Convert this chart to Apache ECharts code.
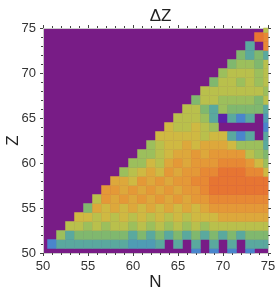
<!DOCTYPE html>
<html>
<head>
<meta charset="utf-8">
<script src="https://cdn.jsdelivr.net/npm/echarts@6/dist/echarts.min.js"></script>
<style>html,body{margin:0;padding:0;background:#fff}#c{width:275px;height:296px}</style>
</head>
<body>
<div id="c"></div>
<script>
// Neutron number N (columns) and proton number Z (rows)
const nValues = [50,51,52,53,54,55,56,57,58,59,60,61,62,63,64,65,66,67,68,69,70,71,72,73,74,75];
const zValues = [50,51,52,53,54,55,56,57,58,59,60,61,62,63,64,65,66,67,68,69,70,71,72,73,74,75];
const xTicks = [50,55,60,65,70,75];
const yTicks = [50,55,60,65,70,75];
const _ = null;
// ΔZ level per row (index = N - 50), null = no value
const z50 = [_,_,_,_,_,_,_,_,_,_,_,_,_,_,_,_,_,2,_,2,_,2,_,2,_,_];
const z51 = [_,2,4,4,4,4,4,4,4,4,3,3,3,4,_,4,_,4,_,4,_,4,_,4,4,4];
const z52 = [_,_,6,4,5,5,5,5,5,5,4,5,4,5,4,5,4,5,4,5,4,5,4,5,5,5];
const z53 = [_,_,_,7,7,6,7,6,7,7,6,7,6,7,6,7,6,7,6,7,7,7,7,7,7,7];
const z54 = [_,_,_,_,8,8,7,8,7,8,7,8,7,8,7,8,7,8,8,8,9,9,9,9,9,9];
const z55 = [_,_,_,_,_,5,9,8,9,8,9,8,9,8,9,8,9,8,9,10,10,10,10,10,10,10];
const z56 = [_,_,_,_,_,_,7,10,9,10,9,10,9,10,9,10,9,10,10,11,11,11,11,11,11,11];
const z57 = [_,_,_,_,_,_,_,10,10,9,10,9,10,9,10,9,10,10,11,12,12,12,12,12,12,12];
const z58 = [_,_,_,_,_,_,_,_,9,9,8,10,9,10,9,10,10,11,11,12,12,12,12,12,12,12];
const z59 = [_,_,_,_,_,_,_,_,_,6,7,8,9,8,10,9,10,10,11,11,12,12,12,11,11,8];
const z60 = [_,_,_,_,_,_,_,_,_,_,6,6,8,7,9,10,9,10,10,10,11,11,11,10,8,6];
const z61 = [_,_,_,_,_,_,_,_,_,_,_,6,6,7,8,9,9,10,9,10,10,10,10,7,6,5];
const z62 = [_,_,_,_,_,_,_,_,_,_,_,_,6,7,8,8,9,8,9,9,9,8,6,6,6,4];
const z63 = [_,_,_,_,_,_,_,_,_,_,_,_,_,8,8,8,8,8,7,8,8,4,2,4,_,4];
const z64 = [_,_,_,_,_,_,_,_,_,_,_,_,_,_,8,7,7,8,7,6,_,_,_,_,_,2];
const z65 = [_,_,_,_,_,_,_,_,_,_,_,_,_,_,_,7,7,7,6,4,1,4,2,4,_,3];
const z66 = [_,_,_,_,_,_,_,_,_,_,_,_,_,_,_,_,7,7,5,4,6,5,5,5,5,4];
const z67 = [_,_,_,_,_,_,_,_,_,_,_,_,_,_,_,_,_,5,7,7,6,6,6,6,5,7];
const z68 = [_,_,_,_,_,_,_,_,_,_,_,_,_,_,_,_,_,_,7,7,7,7,7,7,7,6];
const z69 = [_,_,_,_,_,_,_,_,_,_,_,_,_,_,_,_,_,_,_,5,7,7,6,7,6,7];
const z70 = [_,_,_,_,_,_,_,_,_,_,_,_,_,_,_,_,_,_,_,_,6,7,7,7,6,7];
const z71 = [_,_,_,_,_,_,_,_,_,_,_,_,_,_,_,_,_,_,_,_,_,5,6,6,5,7];
const z72 = [_,_,_,_,_,_,_,_,_,_,_,_,_,_,_,_,_,_,_,_,_,_,5,4,5,4];
const z73 = [_,_,_,_,_,_,_,_,_,_,_,_,_,_,_,_,_,_,_,_,_,_,_,4,_,11];
const z74 = [_,_,_,_,_,_,_,_,_,_,_,_,_,_,_,_,_,_,_,_,_,_,_,_,12,11];
const z75 = [_,_,_,_,_,_,_,_,_,_,_,_,_,_,_,_,_,_,_,_,_,_,_,_,_,7];
const rows = [z50,z51,z52,z53,z54,z55,z56,z57,z58,z59,z60,z61,z62,z63,z64,z65,z66,z67,z68,z69,z70,z71,z72,z73,z74,z75];

const palette = ['#781c86','#5b22aa','#4a86cc','#4f9cb4','#5aa99e','#80b86e','#9cbf5c',
                 '#b9c04c','#cfb942','#dda83b','#e49937','#e78934','#e77532'];

const data = [];
rows.forEach((row, zi) => row.forEach((v, ni) => {
  if (v !== null) data.push([nValues[ni], zValues[zi], v]);
}));

const chart = echarts.init(document.getElementById('c'));
const font = 'Liberation Sans';
const txt = '#333';
const tickStyle = {color:'#444', width:1};
function axisBase(extra) {
  return Object.assign({
    type:'value', min:50, max:75, interval:5,
    axisLine:{show:true, lineStyle:{color:'#cccccc', width:1}},
    axisTick:{show:true, inside:false, length:3, lineStyle:tickStyle},
    minorTick:{show:true, splitNumber:5, length:2, lineStyle:tickStyle},
    splitLine:{show:false}
  }, extra);
}
chart.setOption({
  animation:false,
  title:{text:'ΔZ', left:155.5, top:3, textAlign:'center',
    textStyle:{fontFamily:font, fontSize:17, fontWeight:'normal', color:'#222'}},
  grid:{left:43, top:28, width:225, height:225, show:true, backgroundColor:'#781c86', borderWidth:0,
    containLabel:false, outerBoundsMode:'none'},
  visualMap:{show:false, type:'continuous', min:0, max:12, dimension:2, seriesIndex:0,
    inRange:{color:palette}},
  xAxis:[
    axisBase({position:'bottom', name:'N', nameLocation:'middle', nameGap:21, nameMoveOverlap:false,
      nameTextStyle:{fontFamily:font, fontSize:17, color:'#222'},
      axisLabel:{fontFamily:font, fontSize:13, color:txt, margin:7,
        formatter:v => xTicks.includes(v) ? String(v) : ''}}),
    axisBase({position:'top', axisLabel:{show:false}})
  ],
  yAxis:[
    axisBase({position:'left', name:'Z', nameLocation:'middle', nameGap:21, nameRotate:90, nameMoveOverlap:false,
      nameTextStyle:{fontFamily:font, fontSize:17, color:'#222'},
      axisLabel:{fontFamily:font, fontSize:13, color:txt, margin:7,
        formatter:v => yTicks.includes(v) ? String(v) : ''}}),
    axisBase({position:'right', axisLabel:{show:false}})
  ],
  series:[{
    type:'custom',
    xAxisIndex:0, yAxisIndex:0,
    data:data,
    encode:{x:0, y:1},
    renderItem:function(params, api){
      const n = api.value(0), z = api.value(1);
      const p0 = api.coord([n-0.5, z+0.5]);
      const p1 = api.coord([n+0.5, z-0.5]);
      const cs = params.coordSys;
      const r = echarts.graphic.clipRectByRect(
        {x:p0[0], y:p0[1], width:p1[0]-p0[0], height:p1[1]-p0[1]},
        {x:cs.x, y:cs.y, width:cs.width, height:cs.height});
      if (!r) return;
      const c = api.visual('color');
      return {type:'rect', shape:r, style:{fill:c, stroke:c, lineWidth:0.5}};
    }
  }]
});
</script>
</body>
</html>
